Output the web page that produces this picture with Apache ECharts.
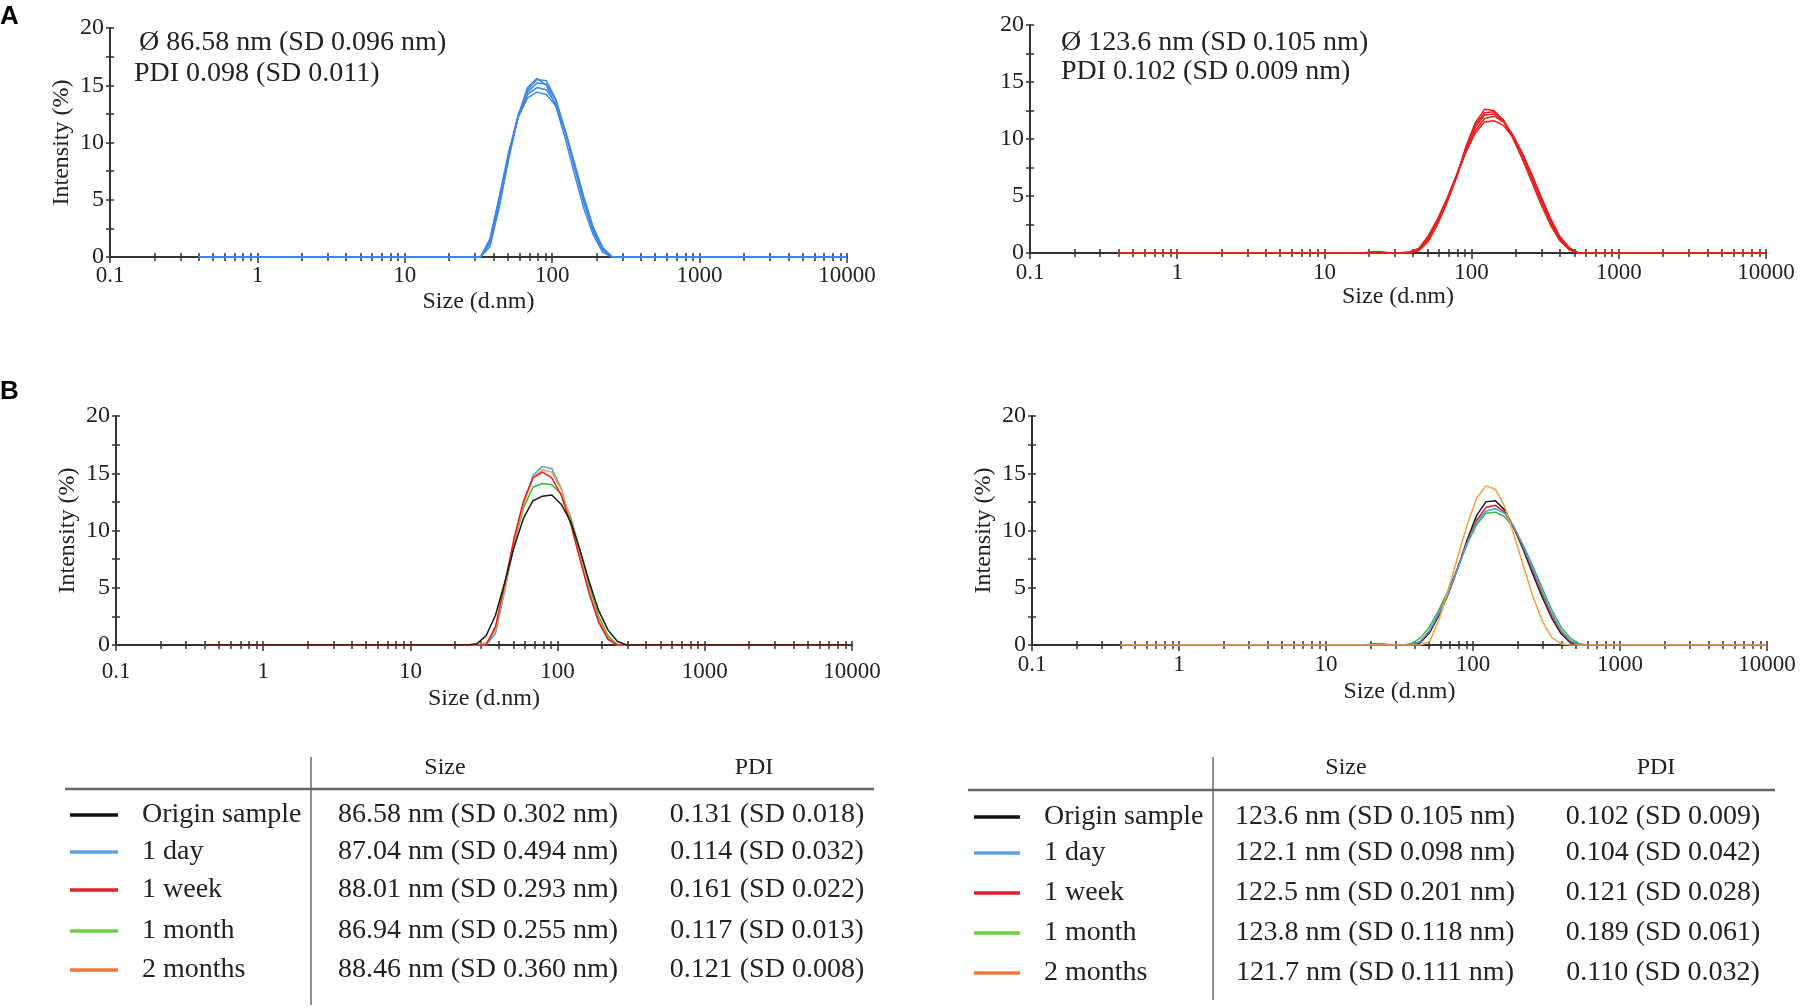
<!DOCTYPE html>
<html>
<head>
<meta charset="utf-8">
<title>DLS size distributions</title>
<script src="https://cdn.jsdelivr.net/npm/echarts@6/dist/echarts.min.js"></script>
<style>
  html, body { margin: 0; padding: 0; background: #fff; }
  #chart { width: 1804px; height: 1008px; }
</style>
</head>
<body>
<div id="chart"></div>
<script>
// size classes (d.nm) of the instrument, only the part around the peaks
var sizes = [18.17, 21.04, 24.36, 28.21, 32.67, 37.84, 43.82, 50.75, 58.77, 68.06, 78.82, 91.28, 105.7,
             122.4, 141.8, 164.2, 190.1, 220.2, 255.0, 295.3, 342.0, 396.1, 458.7, 531.2, 615.1];
// first and last size class, intensity is 0 there
var sizeFirst = 0.4, sizeLast = 10000;

var xMajorTicks = [0.1, 1, 10, 100, 1000, 10000];
var xMinorTicks = [0.2, 0.3, 0.4, 0.5, 0.6, 0.7, 0.8, 0.9, 2, 3, 4, 5, 6, 7, 8, 9,
                   20, 30, 40, 50, 60, 70, 80, 90, 200, 300, 400, 500, 600, 700, 800, 900,
                   2000, 3000, 4000, 5000, 6000, 7000, 8000, 9000];
var yTicks = [0, 5, 10, 15, 20];

// A, left: replicate runs (Intensity %)
var repA1 = [0,0,0,0,0,1.4,5.0,9.0,12.4,14.6,15.5,15.4,13.8,11.0,7.8,4.7,2.2,0.6,0,0,0,0,0,0,0];
var repA2 = [0,0,0,0,0,1.2,4.8,8.8,12.2,14.4,15.2,15.1,13.7,11.1,8.0,4.9,2.4,0.7,0,0,0,0,0,0,0];
var repA3 = [0,0,0,0,0,1.5,5.2,9.1,12.3,14.2,14.8,14.6,13.4,11.0,8.1,5.0,2.5,0.8,0,0,0,0,0,0,0];
var repA4 = [0,0,0,0,0,1.6,5.3,9.2,12.2,13.9,14.4,14.2,13.2,11.0,8.2,5.2,2.6,0.8,0,0,0,0,0,0,0];
var repA5 = [0,0,0,0,0,0.9,4.4,8.6,12.3,14.8,15.6,15.0,13.2,10.4,7.2,4.2,1.9,0.4,0,0,0,0,0,0,0];

// A, right: replicate runs
var repR1 = [0,0,0,0,0,0,0.2,1.0,2.5,4.4,6.6,9.3,11.4,12.6,12.5,11.6,10.1,8.3,6.3,4.3,2.5,1.1,0.3,0,0];
var repR2 = [0,0,0,0,0,0,0.3,1.2,2.7,4.5,6.7,9.2,11.2,12.3,12.4,11.7,10.3,8.6,6.6,4.6,2.7,1.2,0.3,0,0];
var repR3 = [0,0.1,0.1,0,0,0,0.4,1.4,2.9,4.7,6.8,9.1,11.0,12.1,12.2,11.6,10.3,8.7,6.7,4.7,2.8,1.3,0.4,0,0];
var repR4 = [0,0,0,0,0,0,0.3,1.3,2.8,4.6,6.6,8.9,10.7,11.8,12.0,11.5,10.4,8.8,6.9,4.9,3.0,1.4,0.4,0,0];
var repR5 = [0,0,0,0,0,0.1,0.4,1.5,3.0,4.8,6.8,8.8,10.5,11.5,11.6,11.2,10.2,8.8,7.0,5.0,3.1,1.5,0.5,0,0];

// B, left: storage series
var bL_origin = [0,0,0,0.1,0.8,2.6,5.5,8.6,11.1,12.6,13.0,13.1,12.3,10.8,8.3,5.5,3.0,1.3,0.3,0,0,0,0,0,0];
var bL_day    = [0,0,0,0,0,1.0,4.8,8.9,12.4,14.8,15.6,15.4,13.7,10.8,7.6,4.5,2.0,0.5,0,0,0,0,0,0,0];
var bL_week   = [0,0,0,0,0,1.6,5.4,9.4,12.6,14.6,15.1,14.6,13.1,10.6,7.5,4.5,2.0,0.5,0,0,0,0,0,0,0];
var bL_month  = [0,0,0,0,0,1.4,5.0,8.9,12.0,13.8,14.1,14.0,13.2,11.2,8.3,5.2,2.5,0.8,0,0,0,0,0,0,0];
var bL_2month = [0,0,0,0,0.2,1.3,5.0,9.0,12.3,14.6,15.3,15.1,13.6,10.9,7.8,4.7,2.2,0.6,0,0,0,0,0,0,0];

// B, right: storage series
var bR_origin = [0,0,0,0,0,0,0.2,1.1,2.6,4.5,6.7,9.2,11.3,12.5,12.6,11.8,10.2,8.3,6.2,4.2,2.4,1.0,0.2,0,0];
var bR_day    = [0,0,0,0,0,0,0.3,1.3,2.8,4.6,6.7,8.9,10.7,11.7,11.9,11.5,10.3,8.6,6.7,4.7,2.8,1.3,0.4,0,0];
var bR_week   = [0,0,0,0,0,0,0.3,1.2,2.8,4.6,6.7,9.0,10.9,12.0,12.2,11.6,10.3,8.5,6.5,4.5,2.6,1.2,0.3,0,0];
var bR_month  = [0,0.1,0.1,0,0,0.1,0.6,1.6,3.1,4.8,6.8,8.8,10.5,11.5,11.6,11.2,10.2,8.7,6.9,5.0,3.1,1.6,0.6,0.1,0];
var bR_2month = [0,0,0,0,0,0,0,0.3,2.2,4.9,7.7,10.5,12.8,13.9,13.6,12.1,9.6,6.9,4.3,2.1,0.7,0.1,0,0,0];

var annotLeft = ['Ø 86.58 nm (SD 0.096 nm)', 'PDI 0.098 (SD 0.011)'];
var annotRight = ['Ø 123.6 nm (SD 0.105 nm)', 'PDI 0.102 (SD 0.009 nm)'];

var rowLabels = ['Origin sample', '1 day', '1 week', '1 month', '2 months'];
var tableHeaders = ['Size', 'PDI'];
var sizeLeft = ['86.58 nm (SD 0.302 nm)', '87.04 nm (SD 0.494 nm)', '88.01 nm (SD 0.293 nm)',
                '86.94 nm (SD 0.255 nm)', '88.46 nm (SD 0.360 nm)'];
var pdiLeft = ['0.131 (SD 0.018)', '0.114 (SD 0.032)', '0.161 (SD 0.022)', '0.117 (SD 0.013)', '0.121 (SD 0.008)'];
var sizeRight = ['123.6 nm (SD 0.105 nm)', '122.1 nm (SD 0.098 nm)', '122.5 nm (SD 0.201 nm)',
                 '123.8 nm (SD 0.118 nm)', '121.7 nm (SD 0.111 nm)'];
var pdiRight = ['0.102 (SD 0.009)', '0.104 (SD 0.042)', '0.121 (SD 0.028)', '0.189 (SD 0.061)', '0.110 (SD 0.032)'];

var FONT = 'Liberation Serif';
var TXT = '#222';
var legendColors = ['#111111', '#5aa5e6', '#d9202b', '#6cd03c', '#ec7a3a'];
var lineColors = ['#1a1a1a', '#4f9de8', '#e3201f', '#3fb33f', '#f2a03c'];

var chart = echarts.init(document.getElementById('chart'));

var grids = [
  { left: 110, top: 28, width: 737, height: 229 },
  { left: 1030, top: 25, width: 736, height: 228 },
  { left: 116, top: 416, width: 736, height: 229 },
  { left: 1032, top: 416, width: 735, height: 229 }
];
// per panel: x label margin, x name gap, y name shown
var axisOpts = [
  { lblX: 7, gapX: 33, yName: true },
  { lblX: 8, gapX: 31, yName: false },
  { lblX: 15, gapX: 42, yName: true },
  { lblX: 8, gapX: 35, yName: true }
];

var xAxes = [], yAxes = [];
var tickLine = { color: '#333', width: 1.5 };

grids.forEach(function (g, i) {
  var o = axisOpts[i];
  xAxes.push({
    type: 'log', logBase: 10, gridIndex: i, min: 0.1, max: 10000, position: 'bottom',
    name: 'Size (d.nm)', nameLocation: 'middle', nameGap: o.gapX,
    nameTextStyle: { fontFamily: FONT, fontSize: 24, color: TXT },
    axisLine: { onZero: false, lineStyle: { color: '#333', width: 2 } },
    axisTick: { length: 6, lineStyle: tickLine },
    axisLabel: { margin: o.lblX, fontFamily: FONT, fontSize: 23, color: TXT,
                 formatter: function (v) { return String(v); } },
    splitLine: { show: false }
  });
  // minor log ticks, drawn on helper axes counted in decades
  xAxes.push({
    type: 'value', gridIndex: i, min: -1, max: 4, position: 'bottom',
    axisLine: { show: false, onZero: false }, axisLabel: { show: false }, splitLine: { show: false },
    axisTick: { inside: true, length: 4, lineStyle: tickLine,
      customValues: xMajorTicks.concat(xMinorTicks).map(Math.log10) }
  });
  xAxes.push({
    type: 'value', gridIndex: i, min: -1, max: 4, position: 'bottom',
    axisLine: { show: false, onZero: false }, axisLabel: { show: false }, splitLine: { show: false },
    axisTick: { inside: false, length: 4, lineStyle: tickLine,
      customValues: xMinorTicks.map(Math.log10) }
  });
  yAxes.push({
    type: 'value', gridIndex: i, min: yTicks[0], max: yTicks[yTicks.length - 1], interval: 5,
    position: 'left',
    name: o.yName ? 'Intensity (%)' : '', nameLocation: 'middle', nameGap: 36,
    nameTextStyle: { fontFamily: FONT, fontSize: 24, color: TXT },
    axisLine: { show: true, onZero: false, lineStyle: { color: '#333', width: 2 } },
    axisTick: { show: true, length: 4, lineStyle: tickLine },
    minorTick: { show: true, splitNumber: 2, length: 4, lineStyle: tickLine },
    axisLabel: { margin: 6, fontFamily: FONT, fontSize: 24, color: TXT },
    splitLine: { show: false }
  });
  yAxes.push({
    type: 'value', gridIndex: i, min: yTicks[0], max: yTicks[yTicks.length - 1], interval: 5,
    position: 'left',
    axisLine: { show: false, onZero: false }, axisLabel: { show: false }, splitLine: { show: false },
    axisTick: { show: true, inside: true, length: 4, lineStyle: tickLine },
    minorTick: { show: true, splitNumber: 2, length: 4, lineStyle: tickLine }
  });
});

function curve(vals) {
  var d = [[sizeFirst, 0]];
  sizes.forEach(function (s, k) { d.push([s, vals[k]]); });
  d.push([sizeLast, 0]);
  return d;
}

var series = [];
function addLine(panel, vals, color, width) {
  series.push({
    type: 'line', xAxisIndex: panel * 3, yAxisIndex: panel * 2,
    data: curve(vals), showSymbol: false, silent: true,
    lineStyle: { color: color, width: width || 1.5 }
  });
}

[repA1, repA2, repA3, repA4, repA5].forEach(function (v) { addLine(0, v, '#3f86e8'); });
[repR1, repR2, repR3, repR4, repR5].forEach(function (v) { addLine(1, v, '#e5221f'); });
// draw order follows the picture
addLine(2, bL_month, lineColors[3]);
addLine(2, bL_day, lineColors[1]);
addLine(2, bL_2month, lineColors[4]);
addLine(2, bL_week, lineColors[2]);
addLine(2, bL_origin, lineColors[0]);
addLine(3, bR_month, lineColors[3]);
addLine(3, bR_origin, lineColors[0]);
addLine(3, bR_week, lineColors[2]);
addLine(3, bR_day, lineColors[1]);
addLine(3, bR_2month, lineColors[4]);

// texts, panel letters, table
var graphic = [];
function text(str, x, y, size, align, extra) {
  var st = { text: str, x: x, y: y, fill: TXT, fontFamily: FONT, fontSize: size,
             textAlign: align || 'left', textVerticalAlign: 'middle' };
  if (extra) for (var k in extra) st[k] = extra[k];
  graphic.push({ type: 'text', silent: true, style: st });
}
function line(x1, y1, x2, y2, color, w) {
  graphic.push({ type: 'line', silent: true, shape: { x1: x1, y1: y1, x2: x2, y2: y2 },
                 style: { stroke: color, lineWidth: w } });
}

text('A', 0, 17, 26, 'left', { fontFamily: 'Liberation Sans', fontWeight: 'bold', fill: '#000' });
text('B', 0, 392, 26, 'left', { fontFamily: 'Liberation Sans', fontWeight: 'bold', fill: '#000' });

text(annotLeft[0], 139, 43, 28);
text(annotLeft[1], 134, 74, 28);
text(annotRight[0], 1061, 43, 28);
text(annotRight[1], 1061, 72, 28);

function table(t) {
  text(tableHeaders[0], t.hSize, 768, 24, 'center');
  text(tableHeaders[1], t.hPdi, 768, 24, 'center');
  line(t.ruleX1, t.ruleY, t.ruleX2, t.ruleY, '#666', 2.5);
  line(t.vx, 757, t.vx, t.vy2, '#555', 1.3);
  rowLabels.forEach(function (lab, r) {
    var y = t.rows[r];
    line(t.sw1, y, t.sw2, y, legendColors[r], 3.5);
    text(lab, t.lab, y, 28);
    text(t.size[r], t.cSize, y, 28, 'center');
    text(t.pdi[r], t.cPdi, y, 28, 'center');
  });
}
table({ hSize: 445, hPdi: 754, ruleX1: 65, ruleX2: 874, ruleY: 789, vx: 311, vy2: 1005,
        rows: [815, 852, 890, 931, 970], sw1: 70, sw2: 118, lab: 142, cSize: 478, cPdi: 767,
        size: sizeLeft, pdi: pdiLeft });
table({ hSize: 1346, hPdi: 1656, ruleX1: 968, ruleX2: 1775, ruleY: 790, vx: 1213, vy2: 1000,
        rows: [817, 853, 893, 933, 973], sw1: 974, sw2: 1020, lab: 1044, cSize: 1375, cPdi: 1663,
        size: sizeRight, pdi: pdiRight });

chart.setOption({
  backgroundColor: '#fff',
  animation: false,
  grid: grids,
  xAxis: xAxes,
  yAxis: yAxes,
  series: series,
  graphic: graphic
});
</script>
</body>
</html>
